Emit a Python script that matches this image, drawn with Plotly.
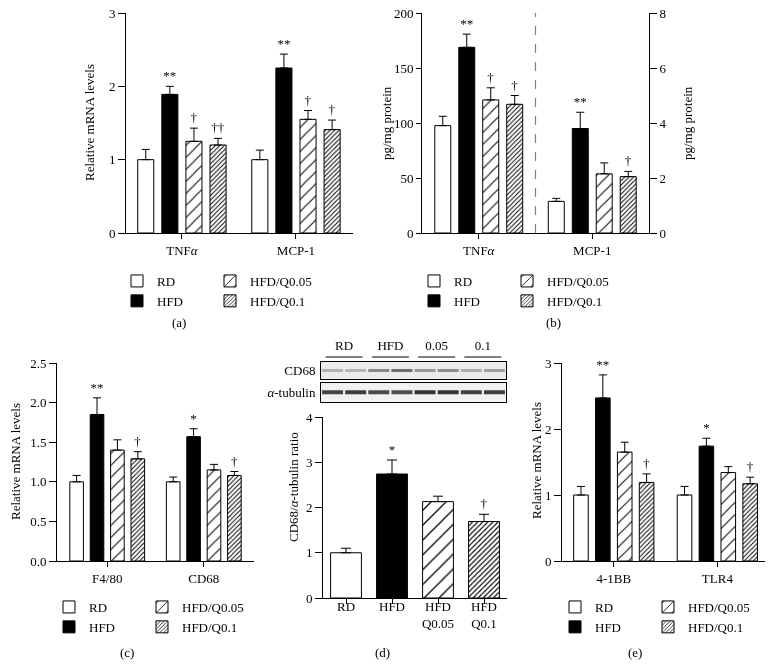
import plotly.graph_objects as go

W, H = 777, 667
FONT = "Liberation Serif"

# ---------------- data ----------------
groups = ["RD", "HFD", "HFD/Q0.05", "HFD/Q0.1"]

# (a) adipose mRNA
a_genes = ["TNFα", "MCP-1"]
a_mean = [[1.00, 1.00], [1.89, 2.25], [1.25, 1.55], [1.20, 1.41]]
a_err = [[0.14, 0.13], [0.11, 0.19], [0.18, 0.12], [0.09, 0.13]]
a_sig = [["", ""], ["**", "**"], ["†", "†"], ["††", "†"]]

# (b) protein levels (TNFα left axis, MCP-1 right axis)
b_genes = ["TNFα", "MCP-1"]
b_tnf_mean = [97.6, 168.8, 121.0, 117.0]
b_tnf_err = [8.5, 12.0, 11.0, 8.0]
b_tnf_sig = ["", "**", "†", "†"]
b_mcp_mean = [1.15, 3.80, 2.15, 2.05]
b_mcp_err = [0.11, 0.59, 0.40, 0.19]
b_mcp_sig = ["", "**", "", "†"]

# (c) macrophage markers mRNA
c_genes = ["F4/80", "CD68"]
c_mean = [[1.00, 1.00], [1.85, 1.57], [1.40, 1.15], [1.29, 1.08]]
c_err = [[0.08, 0.06], [0.21, 0.10], [0.13, 0.07], [0.09, 0.05]]
c_sig = [["", ""], ["**", "*"], ["", ""], ["†", "†"]]

# (d) CD68 protein
d_labels = ["RD", "HFD", "HFD<br>Q0.05", "HFD<br>Q0.1"]
d_mean = [1.00, 2.74, 2.13, 1.69]
d_err = [0.10, 0.31, 0.12, 0.16]
d_sig = ["", "*", "", "†"]
blot_groups = ["RD", "HFD", "0.05", "0.1"]
blot_cd68 = [0.30, 0.28, 0.50, 0.65, 0.42, 0.48, 0.32, 0.38]
blot_tub = [0.85, 0.88, 0.82, 0.80, 0.92, 0.92, 0.86, 0.86]

# (e) 4-1BB / TLR4 mRNA
e_genes = ["4-1BB", "TLR4"]
e_mean = [[1.00, 1.00], [2.47, 1.74], [1.65, 1.34], [1.19, 1.17]]
e_err = [[0.13, 0.13], [0.35, 0.12], [0.15, 0.09], [0.13, 0.10]]
e_sig = [["", ""], ["**", "*"], ["", ""], ["†", "†"]]


# ---------------- helpers ----------------
def fx(px):
    return px / W


def fy(px):
    return 1 - px / H


def marker_for(i, sparse=8.5, dense=3.2):
    base = dict(line=dict(color="black", width=1))
    base["color"] = "black" if i == 1 else "white"
    if i == 2:
        base["pattern"] = dict(shape="/", size=sparse, solidity=0.12,
                               fgcolor="black", bgcolor="white", fillmode="replace")
    elif i == 3:
        base["pattern"] = dict(shape="/", size=dense, solidity=0.3,
                               fgcolor="black", bgcolor="white", fillmode="replace")
    return base


ERR = dict(type="data", symmetric=False, color="black", thickness=1, width=4)
SIGFONT = dict(family=FONT, size=13, color="black")

fig = go.Figure()


def add_sig(xa, ya, cats, tops, sig, og, width=None):
    kw = dict(width=width) if width else {}
    fig.add_trace(go.Bar(
        x=cats, y=tops, text=sig, textposition="outside",
        textfont=SIGFONT, outsidetextfont=SIGFONT,
        constraintext="none", cliponaxis=False,
        marker=dict(color="rgba(0,0,0,0)", line=dict(width=0)),
        offsetgroup=og, xaxis=xa, yaxis=ya, showlegend=False, hoverinfo="skip", **kw))


def add_bars(xa, ya, cats, mean, err, sig, legends, showlegend):
    for i, g in enumerate(groups):
        fig.add_trace(go.Bar(
            x=cats, y=mean[i], name=g, marker=marker_for(i),
            error_y=dict(ERR, array=err[i], arrayminus=[0] * len(cats)),
            offsetgroup=f"g{i}", xaxis=xa, yaxis=ya,
            legend=legends[i // 2], showlegend=showlegend, hoverinfo="skip"))
        add_sig(xa, ya, cats, [m + e for m, e in zip(mean[i], err[i])], sig[i], f"g{i}")


# (a)
add_bars("x", "y", a_genes, a_mean, a_err, a_sig, ["legend", "legend2"], True)

# (b) TNFα on left axis, MCP-1 on right axis
add_bars("x2", "y2", [b_genes[0]],
         [[v] for v in b_tnf_mean], [[v] for v in b_tnf_err], [[v] for v in b_tnf_sig],
         ["legend3", "legend4"], True)
add_bars("x2", "y3", [b_genes[1]],
         [[v] for v in b_mcp_mean], [[v] for v in b_mcp_err], [[v] for v in b_mcp_sig],
         ["legend3", "legend4"], False)

# (c)
add_bars("x3", "y4", c_genes, c_mean, c_err, c_sig, ["legend5", "legend6"], True)

# (e)
add_bars("x5", "y6", e_genes, e_mean, e_err, e_sig, ["legend7", "legend8"], True)

# (d) one bar per treatment, all sharing one slot per category
for i in range(len(d_labels)):
    fig.add_trace(go.Bar(
        x=[d_labels[i]], y=[d_mean[i]], width=0.67, offsetgroup="d",
        marker=marker_for(i, sparse=10.5, dense=3.6),
        error_y=dict(ERR, array=[d_err[i]], arrayminus=[0], width=5),
        xaxis="x4", yaxis="y5", showlegend=False, hoverinfo="skip"))
    add_sig("x4", "y5", [d_labels[i]], [d_mean[i] + d_err[i]], [d_sig[i]], "d", width=0.67)


# western blot bands
def band_color(v, base=236):
    c = int(round(base - v * 200))
    return f"rgb({c},{c},{min(255, c + 8)})"


lanes = list(range(len(blot_cd68)))
fig.add_trace(go.Scatter(
    x=lanes, y=[0] * len(lanes), mode="markers", xaxis="x6", yaxis="y7",
    marker=dict(symbol="line-ew", size=15,
                line=dict(width=3, color=[band_color(v) for v in blot_cd68])),
    showlegend=False, hoverinfo="skip"))
fig.add_trace(go.Scatter(
    x=lanes, y=[0] * len(lanes), mode="markers", xaxis="x7", yaxis="y8",
    marker=dict(symbol="line-ew", size=15,
                line=dict(width=4, color=[band_color(v) for v in blot_tub])),
    showlegend=False, hoverinfo="skip"))

# ---------------- axes ----------------
TF = dict(family=FONT, size=13, color="black")
common = dict(showline=True, linecolor="black", linewidth=1, ticks="outside",
              tickcolor="black", tickwidth=1, showgrid=False, zeroline=False,
              tickfont=TF, fixedrange=True)


def xcat(dom, cats, rng, anchor):
    return dict(common, domain=[fx(dom[0]), fx(dom[1])], type="category",
                categoryorder="array", categoryarray=cats, range=rng,
                ticklen=5, anchor=anchor)


def ylin(dom, rng, dtick, anchor, fmt=None):
    d = dict(common, domain=[fy(dom[1]), fy(dom[0])], range=rng, dtick=dtick,
             ticklen=7, anchor=anchor)
    if fmt:
        d["tickformat"] = fmt
    return d


layout = dict(
    width=W, height=H, margin=dict(l=0, r=0, t=0, b=0),
    template="none", paper_bgcolor="white", plot_bgcolor="rgba(0,0,0,0)",
    barmode="group", bargap=0.155, bargroupgap=0.333,
    font=dict(family=FONT, size=13, color="black"),
)

layout["xaxis"] = xcat((126, 353), a_genes, [-0.49, 1.5], "y")
layout["xaxis"]["ticktext"] = ["TNF<i>α</i>", "MCP-1"]
layout["xaxis"]["tickvals"] = a_genes
layout["yaxis"] = ylin((13, 233), [0, 3], 1, "x")

layout["xaxis2"] = xcat((422, 649), b_genes, [-0.5, 1.5], "y2")
layout["xaxis2"]["ticktext"] = ["TNF<i>α</i>", "MCP-1"]
layout["xaxis2"]["tickvals"] = b_genes
layout["yaxis2"] = ylin((13, 233), [0, 200], 50, "x2")
layout["yaxis2"]["ticklen"] = 5
layout["yaxis3"] = ylin((13, 233), [0, 8], 2, "x2")
layout["yaxis3"].update(overlaying="y2", side="right")

layout["xaxis3"] = xcat((57, 254), c_genes, [-0.52, 1.52], "y4")
layout["yaxis4"] = ylin((363, 561), [0, 2.5], 0.5, "x3", ".1f")

layout["xaxis4"] = xcat((323, 507), d_labels, [-0.5, 3.5], "y5")
layout["xaxis4"]["ticklabelstandoff"] = -9
layout["yaxis5"] = ylin((417, 598), [0, 4], 1, "x4")

layout["xaxis5"] = xcat((562, 765), e_genes, [-0.5, 1.46], "y6")
layout["yaxis6"] = ylin((363, 561), [0, 3], 1, "x5")

blot_x = dict(domain=[fx(321), fx(506)], range=[-0.5, 7.5], showline=True, mirror=True,
              linecolor="black", linewidth=1, showgrid=False, zeroline=False,
              ticks="", fixedrange=True, tickfont=TF)
layout["xaxis6"] = dict(blot_x, anchor="y7", side="top",
                        tickvals=[0.5, 2.5, 4.5, 6.5], ticktext=blot_groups,
                        ticklabelstandoff=6)
layout["xaxis7"] = dict(blot_x, anchor="y8", showticklabels=False)
blot_y = dict(range=[-1, 1], showline=True, mirror=True, linecolor="black", linewidth=1,
              showgrid=False, zeroline=False, ticks="", fixedrange=True, tickfont=TF,
              tickvals=[0], ticklabelstandoff=2)
layout["yaxis7"] = dict(blot_y, domain=[fy(379), fy(362)], anchor="x6", ticktext=["CD68"])
layout["yaxis8"] = dict(blot_y, domain=[fy(401.5), fy(383)], anchor="x7",
                        ticktext=["<i>α</i>-tubulin"])


def legend_cfg(left_px, top_px):
    return dict(x=fx(left_px), y=fy(top_px), xanchor="left", yanchor="top",
                orientation="v", font=dict(family=FONT, size=13, color="black"),
                bgcolor="rgba(0,0,0,0)", borderwidth=0, tracegroupgap=0,
                itemclick=False, itemdoubleclick=False)


COLW = 93
for name, (lx, ly) in {"legend": (117, 266), "legend3": (414, 266),
                       "legend5": (49, 592), "legend7": (555, 592)}.items():
    layout[name] = legend_cfg(lx, ly)
    partner = "legend" + str((int(name[6:] or 1)) + 1)
    layout[partner] = legend_cfg(lx + COLW, ly)

fig.update_layout(**layout)

# ---------------- shapes & text ----------------
fig.add_shape(type="line", xref="x2", yref="y2 domain", x0=0.5, x1=0.5, y0=0, y1=1,
              line=dict(color="#808080", width=1.2, dash="dash"))
fig.add_shape(type="rect", xref="x6 domain", yref="y7 domain", x0=0, x1=1, y0=0, y1=1,
              fillcolor="#e8ebf2", line=dict(width=0), layer="below")
fig.add_shape(type="rect", xref="x7 domain", yref="y8 domain", x0=0, x1=1, y0=0, y1=1,
              fillcolor="#f1f1f1", line=dict(width=0), layer="below")
for k in range(len(blot_groups)):
    fig.add_shape(type="line", xref="x6", yref="paper", x0=2 * k - 0.3, x1=2 * k + 1.3,
                  y0=fy(357), y1=fy(357), line=dict(color="black", width=1))


def ann(x, y, text, angle=0):
    fig.add_annotation(x=fx(x), y=fy(y), xref="paper", yref="paper", text=text,
                       showarrow=False, textangle=angle, xanchor="center",
                       yanchor="middle", font=dict(family=FONT, size=13, color="black"))


ann(89, 123, "Relative mRNA levels", -90)
ann(386, 123, "pg/mg protein", -90)
ann(687, 123, "pg/mg protein", -90)
ann(15, 462, "Relative mRNA levels", -90)
ann(293, 487, "CD68/<i>α</i>-tubulin ratio", -90)
ann(536, 461, "Relative mRNA levels", -90)

ann(179, 322, "(a)")
ann(553, 322, "(b)")
ann(127, 652, "(c)")
ann(382, 652, "(d)")
ann(635, 652, "(e)")

fig.write_html(
    "out.html", config={"displayModeBar": False},
    post_script=("document.body.style.margin='0';"
                 "document.body.style.overflow='hidden';"
                 "document.body.style.filter='grayscale(1)';"))
